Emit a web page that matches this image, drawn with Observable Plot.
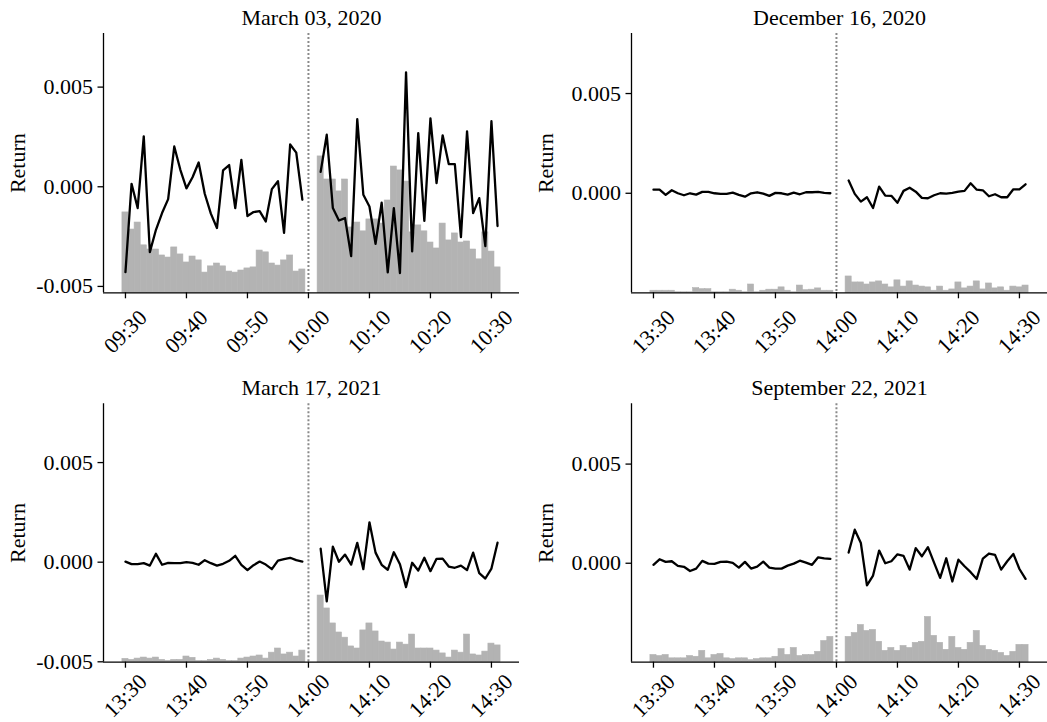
<!DOCTYPE html>
<html>
<head>
<meta charset="utf-8">
<script src="https://cdn.jsdelivr.net/npm/d3@7"></script>
<script src="https://cdn.jsdelivr.net/npm/@observablehq/plot@0.6"></script>
<style>
  html, body { margin: 0; padding: 0; background: #fff; overflow: hidden; }
  #root { position: relative; width: 1047px; height: 722px; }
  .panel { position: absolute; }
  .panel svg { position: absolute; left: 0; top: 0; overflow: visible; }
</style>
</head>
<body>
<div id="root"></div>
<script>
// ---------- data ----------
const titles = ["March 03, 2020", "December 16, 2020", "March 17, 2021", "September 22, 2021"];
const dates = ["2020-03-03", "2020-12-16", "2021-03-17", "2021-09-22"];
const startTimes = ["09:30", "13:30", "13:30", "13:30"];
const dividerTimes = ["10:00", "14:00", "14:00", "14:00"];
const yLabel = "Return";
const yTickValues = [-0.005, 0.000, 0.005];
const yDomains = [
  [-0.00532, 0.00769],
  [-0.00499, 0.00801],
  [-0.00502, 0.00795],
  [-0.00499, 0.00804]
];

// minute returns before the break (first 30 minutes) and after it (minutes 32..61)
const preReturns1 = [-0.00428, 0.00015, -0.00107, 0.00253, -0.00328, -0.00216, -0.00132, -0.00062, 0.00202, 0.00085, -0.00008, 0.00048, 0.00122, -0.00035, -0.00135, -0.00207, 0.00082, 0.00109, -0.00107, 0.00135, -0.00147, -0.00127, -0.00122, -0.00174, -0.00012, 0.00028, -0.00231, 0.00212, 0.00171, -0.00065];
const postReturns1 = [0.00075, 0.00261, -0.00107, -0.00169, -0.00157, -0.00348, 0.00339, -0.00040, -0.00099, -0.00286, -0.00080, -0.00430, -0.00107, -0.00433, 0.00574, -0.00324, 0.00269, -0.00171, 0.00343, 0.00018, 0.00258, 0.00114, 0.00114, -0.00253, 0.00278, -0.00132, -0.00057, -0.00298, 0.00329, -0.00197];
const preReturns2 = [0.00018, 0.00018, -0.00008, 0.00015, 0.00000, -0.00010, 0.00000, -0.00007, 0.00007, 0.00007, 0.00000, -0.00003, -0.00003, 0.00003, -0.00008, -0.00017, 0.00000, 0.00005, -0.00002, -0.00013, 0.00002, 0.00000, -0.00007, 0.00003, -0.00005, 0.00005, 0.00005, 0.00007, 0.00002, 0.00000];
const postReturns2 = [0.00064, -0.00003, -0.00042, -0.00020, -0.00074, 0.00033, -0.00012, -0.00013, -0.00048, 0.00012, 0.00028, 0.00008, -0.00023, -0.00025, -0.00010, 0.00000, -0.00002, 0.00002, 0.00008, 0.00012, 0.00050, 0.00018, 0.00015, -0.00015, -0.00005, -0.00020, -0.00020, 0.00020, 0.00020, 0.00045];
const preReturns3 = [0.00003, -0.00010, -0.00010, -0.00005, -0.00017, 0.00042, -0.00013, -0.00003, -0.00005, -0.00005, 0.00000, -0.00003, -0.00013, 0.00010, -0.00005, -0.00017, -0.00008, 0.00007, 0.00032, -0.00013, -0.00040, -0.00015, 0.00003, -0.00012, -0.00035, 0.00008, 0.00015, 0.00022, 0.00010, 0.00003];
const postReturns3 = [0.00068, -0.00197, 0.00078, 0.00002, 0.00038, -0.00012, 0.00097, -0.00035, 0.00200, 0.00048, -0.00013, -0.00038, 0.00050, -0.00010, -0.00125, -0.00003, -0.00042, 0.00022, -0.00045, 0.00017, 0.00018, -0.00022, -0.00028, -0.00017, -0.00040, 0.00048, -0.00055, -0.00082, -0.00032, 0.00098];
const preReturns4 = [-0.00008, 0.00020, 0.00007, 0.00010, -0.00013, -0.00018, -0.00039, -0.00027, 0.00012, -0.00002, -0.00003, 0.00007, 0.00008, 0.00002, -0.00022, 0.00007, -0.00027, -0.00017, 0.00008, -0.00022, -0.00027, -0.00027, -0.00012, -0.00002, 0.00013, 0.00003, -0.00008, 0.00030, 0.00025, 0.00022];
const postReturns4 = [0.00054, 0.00169, 0.00102, -0.00112, -0.00062, 0.00064, 0.00000, 0.00010, 0.00045, 0.00037, -0.00032, 0.00076, 0.00035, 0.00081, 0.00003, -0.00074, 0.00025, -0.00092, 0.00018, -0.00015, -0.00045, -0.00079, 0.00023, 0.00049, 0.00042, -0.00032, 0.00010, 0.00047, -0.00029, -0.00079];

// minute volumes (arbitrary units, hidden secondary axis 0..100)
const volumeMax = 100;
const preVolume1 = [31.0, 24.4, 27.1, 18.3, 16.7, 16.7, 14.4, 13.6, 17.5, 14.8, 11.7, 14.0, 12.5, 7.8, 10.2, 11.3, 10.2, 8.2, 7.8, 8.6, 9.4, 9.8, 16.3, 15.6, 11.3, 10.5, 12.5, 14.4, 8.2, 9.0];
const postVolume1 = [52.6, 43.7, 43.7, 39.1, 43.7, 25.2, 27.1, 23.7, 28.3, 28.3, 26.7, 35.6, 48.7, 47.2, 42.9, 23.3, 26.0, 23.7, 19.4, 17.1, 26.7, 20.2, 22.9, 19.4, 19.8, 16.7, 12.9, 23.3, 15.9, 9.8];
const preVolume2 = [0.8, 0.8, 0.8, 0.8, 0.2, 0.2, 0.2, 1.8, 1.4, 1.4, 0.2, 0.2, 0.2, 1.2, 0.8, 0.2, 3.2, 0.2, 0.8, 1.2, 1.2, 2.1, 0.8, 0.2, 2.8, 1.0, 1.2, 1.7, 0.8, 0.8];
const postVolume2 = [6.3, 4.0, 4.0, 3.2, 4.0, 4.4, 3.2, 2.1, 4.8, 2.4, 4.4, 2.8, 2.4, 2.1, 0.8, 2.4, 0.8, 1.3, 4.0, 1.7, 2.4, 4.4, 1.3, 3.6, 1.7, 2.1, 0.8, 2.4, 2.1, 2.8];
const preVolume3 = [1.3, 0.9, 1.4, 1.8, 1.4, 1.8, 0.9, 0.5, 0.9, 0.9, 2.2, 1.7, 0.5, 0.5, 0.9, 1.4, 0.9, 0.5, 0.5, 1.4, 1.8, 2.2, 2.6, 1.4, 3.7, 5.3, 3.0, 3.7, 2.2, 4.5];
const postVolume3 = [25.8, 20.8, 15.0, 11.5, 9.5, 6.1, 5.3, 12.3, 15.0, 11.9, 8.0, 7.6, 4.9, 7.6, 6.8, 10.7, 5.3, 5.3, 5.3, 4.5, 3.4, 1.8, 4.5, 3.7, 10.7, 3.0, 2.6, 4.1, 7.2, 6.5];
const preVolume4 = [2.8, 2.4, 2.8, 1.5, 1.5, 1.5, 2.4, 2.1, 4.4, 1.5, 2.8, 3.2, 1.5, 1.2, 1.5, 1.5, 0.8, 1.2, 1.5, 1.5, 2.1, 5.1, 2.8, 5.5, 2.4, 2.8, 2.8, 4.0, 8.2, 9.8];
const postVolume4 = [9.8, 11.3, 14.4, 12.1, 12.5, 7.9, 4.4, 5.5, 4.4, 6.3, 5.5, 7.5, 7.9, 17.5, 10.2, 7.5, 4.8, 9.8, 5.5, 4.8, 7.5, 12.1, 6.3, 4.8, 4.4, 3.6, 2.4, 4.0, 6.7, 6.7];

const preReturns = [preReturns1, preReturns2, preReturns3, preReturns4];
const postReturns = [postReturns1, postReturns2, postReturns3, postReturns4];
const preVolumes = [preVolume1, preVolume2, preVolume3, preVolume4];
const postVolumes = [postVolume1, postVolume2, postVolume3, postVolume4];
const postOffsetMinutes = 32;

// ---------- layout ----------
const layout = [
  {left: 0,   top: 0,   height: 360, mt: 33,   mb: 67.7, labelDy: 39},
  {left: 528, top: 0,   height: 360, mt: 33,   mb: 67.7, labelDy: 39},
  {left: 0,   top: 360, height: 362, mt: 43.3, mb: 60.3, labelDy: 33.5},
  {left: 528, top: 360, height: 362, mt: 43.3, mb: 60.3, labelDy: 33.5}
];
const W = 519, ML = 103, MR = 0;
const FONT = "'Liberation Serif', 'Times New Roman', Times, serif";
const MIN = 60000;
const fmt = d3.utcFormat("%H:%M");
const root = document.getElementById("root");
const barColor = "#b3b3b3";

for (let p = 0; p < 4; p++) {
  const L = layout[p];
  const t0 = new Date(`${dates[p]}T${startTimes[p]}:00Z`);
  const divider = new Date(`${dates[p]}T${dividerTimes[p]}:00Z`);
  const tAt = (m) => new Date(+t0 + m * MIN);

  const retRows = [];
  const volRows = [];
  preReturns[p].forEach((r, i) => retRows.push({time: tAt(i), ret: r, session: "pre"}));
  postReturns[p].forEach((r, i) => retRows.push({time: tAt(postOffsetMinutes + i), ret: r, session: "post"}));
  preVolumes[p].forEach((v, i) => volRows.push({time: tAt(i), vol: v}));
  postVolumes[p].forEach((v, i) => volRows.push({time: tAt(postOffsetMinutes + i), vol: v}));

  const lastTime = volRows[volRows.length - 1].time;
  const span = (+lastTime - +t0) / MIN + 1;
  const pad = span * 0.05 + 0.5;
  const xDomain = [new Date(+t0 - pad * MIN), new Date(+lastTime + pad * MIN)];
  const xTicks = d3.utcMinute.every(10).range(t0, new Date(+lastTime + 1));
  const yDomain = yDomains[p];
  const yTicks = yTickValues.filter(t => t >= yDomain[0] && t <= yDomain[1]);

  const div = document.createElement("div");
  div.className = "panel";
  div.style.left = L.left + "px";
  div.style.top = L.top + "px";
  div.style.width = W + "px";
  div.style.height = L.height + "px";
  root.appendChild(div);

  const common = {
    width: W, height: L.height,
    marginLeft: ML, marginRight: MR, marginTop: L.mt, marginBottom: L.mb,
    x: {type: "utc", domain: xDomain, axis: null}
  };

  // hidden secondary axis: volume bars
  const bars = Plot.plot({
    ...common,
    style: {background: "transparent", overflow: "visible"},
    y: {domain: [0, volumeMax], axis: null},
    marks: [
      Plot.rectY(volRows, {
        x1: d => new Date(+d.time - MIN / 2),
        x2: d => new Date(+d.time + MIN / 2),
        y1: 0, y2: "vol",
        fill: barColor, stroke: barColor, strokeWidth: 0.6
      })
    ]
  });
  div.appendChild(bars);

  const main = Plot.plot({
    ...common,
    style: {background: "transparent", overflow: "visible", fontFamily: FONT, fontSize: "22px", color: "black"},
    y: {domain: yDomain, axis: null},
    marks: [
      Plot.ruleX([divider], {stroke: "#8a8a8a", strokeWidth: 2, strokeDasharray: "2,2"}),
      Plot.lineY(retRows, {x: "time", y: "ret", z: "session", stroke: "black", strokeWidth: 2.3}),
      Plot.ruleX([xDomain[0]], {stroke: "black", strokeWidth: 1.3}),
      Plot.ruleY([yDomain[0]], {stroke: "black", strokeWidth: 1.3}),
      Plot.axisY(yTicks, {tickSize: 5.5, tickPadding: 5, strokeWidth: 1.3, tickFormat: d => d.toFixed(3), fontSize: 22, label: null}),
      Plot.axisX(xTicks, {tickSize: 6, strokeWidth: 1.3, tickFormat: () => "", label: null}),
      Plot.text(xTicks, {x: d => d, text: d => fmt(d), frameAnchor: "bottom", dy: L.labelDy, rotate: -45,
        textAnchor: "middle", lineAnchor: "middle", fontSize: 22}),
      Plot.text([yLabel], {frameAnchor: "left", dx: -85.5, rotate: -90, textAnchor: "middle", lineAnchor: "middle", fontSize: 22}),
      Plot.text([titles[p]], {frameAnchor: "top", dy: -15.5, textAnchor: "middle", lineAnchor: "middle", fontSize: 22})
    ]
  });
  div.appendChild(main);
}
</script>
</body>
</html>
